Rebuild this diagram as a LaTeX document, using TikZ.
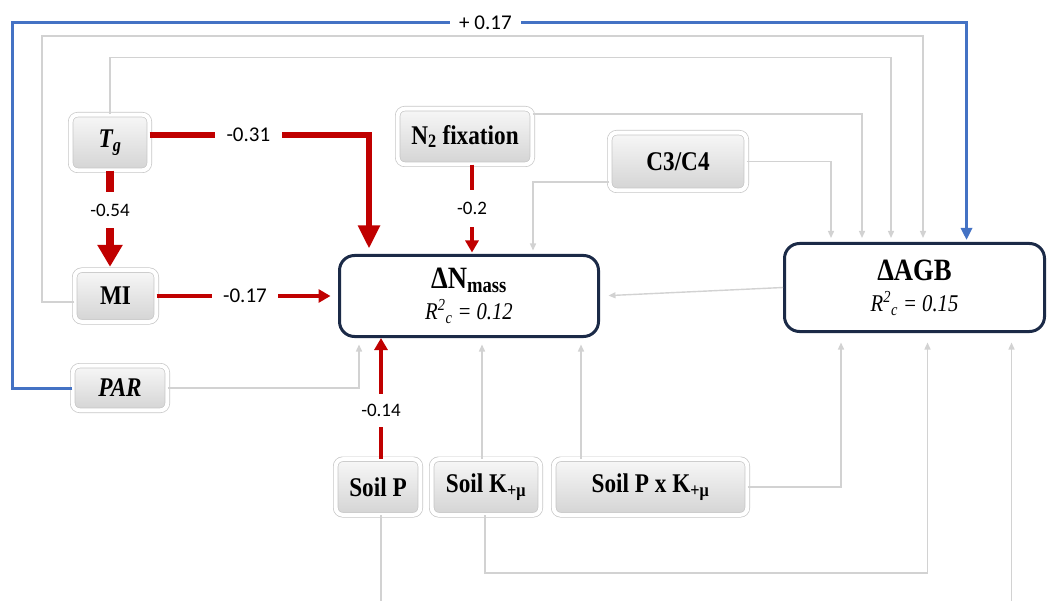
\documentclass[tikz,border=0pt]{standalone}
\usepackage{fontspec}
\setmainfont{Liberation Serif}
\newfontfamily\boxfont{Liberation Serif}[FakeStretch=0.86]
\newfontfamily\labfont{Carlito}
\usetikzlibrary{arrows.meta}
\definecolor{rd}{HTML}{C00000}
\definecolor{bl}{HTML}{4472C4}
\definecolor{gl}{HTML}{D2D2D2}
\definecolor{nv}{HTML}{1B2A47}
\begin{document}
\begin{tikzpicture}[x=1pt,y=-1pt,
  gbox/.style={rectangle, rounded corners=7pt, draw=gray!45, double=white, double distance=4pt, line width=0.7pt, top color=gray!6, bottom color=gray!34, inner sep=0pt, font=\boxfont\fontsize{27}{29}\selectfont\bfseries},
  bigbox/.style={rectangle, rounded corners=15pt, draw=nv, line width=3pt, fill=white, align=center, inner sep=0pt, font=\boxfont\fontsize{24}{31}\selectfont},
  gline/.style={draw=gl, line width=1.4pt, -{Triangle[length=7pt,width=6pt]}, shorten >=4pt},
  rthin/.style={draw=rd, line width=3.5pt, -{Triangle[length=12pt,width=13pt]}},
  lbl/.style={fill=white, font=\labfont\fontsize{21}{22}\selectfont, inner xsep=11.5pt, inner ysep=12pt},
  lbls/.style={fill=white, font=\labfont\fontsize{19}{20}\selectfont, inner xsep=6pt, inner ysep=12pt},
  bline/.style={draw=bl, line width=3pt, -{Triangle[length=12pt,width=11pt]}, shorten >=2pt}
]
\useasboundingbox (0,0) rectangle (1048,601);
\clip (0,0) rectangle (1048,601);

% nodes
\node[gbox, minimum width=78.6pt, minimum height=55.6pt] (Tg) at (110,142.5) {\itshape T\textsubscript{g}};
\node[gbox, minimum width=134.6pt, minimum height=55.6pt] (N2) at (465,136.5) {N\textsubscript{2} fixation};
\node[gbox, minimum width=136.6pt, minimum height=57.6pt] (C34) at (678,161.5) {C3/C4};
\node[gbox, minimum width=81.6pt, minimum height=51.6pt] (MI) at (115.5,296) {MI};
\node[gbox, minimum width=94.6pt, minimum height=44.6pt] (PAR) at (120,388) {\itshape PAR};
\node[gbox, minimum width=84.6pt, minimum height=55.6pt] (SP) at (378,487) {Soil P};
\node[gbox, minimum width=108.6pt, minimum height=55.6pt] (SK) at (486,487) {Soil K\textsubscript{+μ}};
\node[gbox, minimum width=193.6pt, minimum height=55.6pt] (SPK) at (650.5,487) {Soil P x K\textsubscript{+μ}};
\node[bigbox, minimum width=259pt, minimum height=81pt] (N) at (469,296)
  {{\fontsize{31}{31}\selectfont\bfseries ΔN\textsubscript{mass}}\\\itshape R\textsuperscript{2}\textsubscript{c} = 0.12};
\node[bigbox, minimum width=260pt, minimum height=88pt] (AGB) at (914.5,287.5)
  {{\fontsize{31}{31}\selectfont\bfseries ΔAGB}\\\itshape R\textsuperscript{2}\textsubscript{c} = 0.15};

% grey connectors
\draw[gline, shorten >=6.5pt] (PAR.east) -| ([xshift=-110pt]N.south);
\draw[gline, shorten >=6.5pt] ([xshift=-4pt]SK.north) -- ([xshift=13pt]N.south);
\draw[gline, shorten >=6.5pt] ([xshift=-69.5pt]SPK.north) -- ([xshift=112pt]N.south);
\draw[gline, shorten >=8.5pt] (AGB.west) -- (N.east);
\draw[gline, shorten >=3.5pt] ([yshift=-20.5pt]C34.west) -| ([xshift=64pt]N.north);
\draw[gline] (C34.east) -| ([xshift=-83.5pt]AGB.north);
\draw[gline] ([yshift=22.5pt]N2.east) -| ([xshift=-52.5pt]AGB.north);
\draw[gline] (Tg.north) -- ++(0,-56.6) -| ([xshift=-23.5pt]AGB.north);
\draw[gline] ([yshift=-6pt]MI.west) -| (42,36) -| ([xshift=8.5pt]AGB.north);
\draw[gline, shorten >=9.5pt] (SPK.east) -| ([xshift=-73.5pt]AGB.south);
\draw[gline, shorten >=9.5pt] ([xshift=-1pt]SK.south) -- ++(0,58) -| ([xshift=13pt]AGB.south);
\draw[gline, shorten >=9.5pt] ([xshift=3pt]SP.south) -- ++(0,130) -| ([xshift=97pt]AGB.south);

% blue connector
\draw[bline] (PAR.west) -| (12,23) -| node[pos=0.248, fill=white, font=\labfont\fontsize{21}{22}\selectfont, inner xsep=9pt, inner ysep=2pt]{+ 0.17} ([xshift=52pt]AGB.north);

% red connectors
\draw[draw=rd, line width=5.5pt, -{Triangle[length=23pt,width=21pt]}] ([yshift=7.5pt]Tg.east) -| node[lbl, pos=0.225]{-0.31} ([xshift=-100pt,yshift=5.5pt]N.north);
\draw[draw=rd, line width=8pt, -{Triangle[length=22pt,width=24pt]}] (Tg.south) -- node[lbls, pos=0.41]{-0.54} ([xshift=-5.5pt,yshift=3pt]MI.north);
\draw[rthin] ([xshift=7pt]N2.south) -- node[lbls, pos=0.5]{-0.2} ([xshift=3pt,yshift=1.5pt]N.north);
\draw[rthin] (MI.east) -- node[lbl, pos=0.508]{-0.17} ([xshift=-7.5pt]N.west);
\draw[rthin] ([xshift=3pt]SP.north) -- node[lbls, pos=0.40, inner ysep=10pt]{-0.14} ([xshift=-88pt]N.south);
\end{tikzpicture}
\end{document}
